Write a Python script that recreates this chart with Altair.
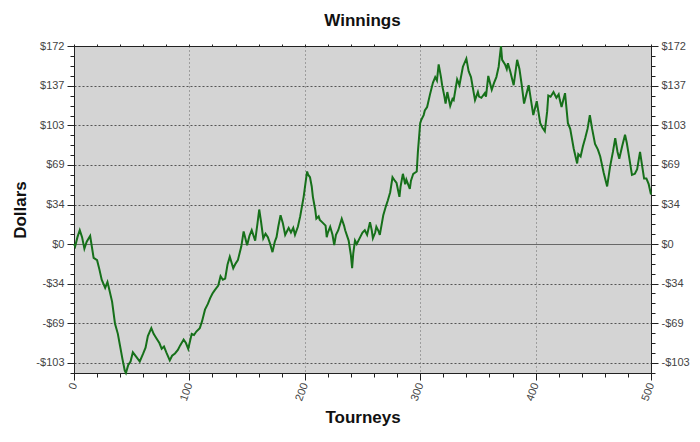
import altair as alt
import pandas as pd

# ---- data ----
tourneys = [0, 1, 3, 5, 7, 9, 11, 14, 17, 20, 22, 24, 27, 29, 30, 33, 35.5, 38, 40, 42, 44, 45,
            47, 49, 51, 54, 57, 60, 62, 64, 67, 69, 71.5, 74, 76, 78, 80, 83, 85, 87.5, 90, 92,
            95, 97, 99, 102, 104, 106, 109, 111, 113.5, 116, 118, 120, 122, 125, 127, 129, 131,
            133, 135, 138, 140, 142, 145, 147, 150, 152, 154, 157, 159, 160.5, 162, 164, 166,
            168, 170, 172, 174, 175.5, 177, 179, 181, 183, 185, 186, 188, 190, 191.5, 194, 196,
            199, 201, 202, 203, 204.5, 206, 207, 209, 210, 212, 213, 215, 218, 219, 220, 222,
            224, 225.5, 227, 229, 232, 234, 235, 237, 238, 240, 241, 242, 243.5, 245, 248, 250,
            252, 254, 256.5, 258, 259, 261, 262, 264, 265, 268, 270, 272, 274, 276, 278, 279.5,
            282, 283, 285, 287, 288, 291, 292, 294, 297, 298, 300, 301, 303, 304, 306, 308.5,
            311, 313, 314.5, 316, 318, 319, 321, 322, 323.5, 326, 328, 329, 332, 334, 337, 340,
            342, 344, 347.5, 350, 351, 353, 356, 357, 359, 361, 362, 364, 366, 368, 370, 371,
            373.5, 375, 376, 378, 381, 384, 386, 388, 390, 392, 394, 396, 398, 401, 404, 406,
            408, 410, 411, 413, 415.5, 418, 420, 421, 422.5, 424, 425.5, 428, 430, 433, 436,
            437, 439, 441, 443, 445, 447, 449, 451.5, 454, 456, 459, 462, 464.5, 467, 469, 471,
            472.5, 475, 477.5, 479, 480.5, 483.5, 486, 488, 490.5, 492, 494, 496, 498, 500]
dollars = [0, -2, 6, 12, 6, -4, 2, 7, -12, -14, -22, -31, -38, -33, -37, -50, -69, -78, -89, -100,
           -110, -112, -105, -102, -94, -98, -102, -95, -90, -80, -73, -78, -82, -86, -91, -89,
           -94, -101, -97, -95, -92, -88, -83, -86, -91, -78, -79, -76, -73, -67, -57, -52, -47,
           -43, -40, -36, -28, -31, -30, -18, -11, -21, -17, -14, -2, 11, -1, 7, 12, 3, 18, 30,
           20, 5, 9, 6, 0, -7, 2, 6, 15, 25, 18, 8, 12, 14, 10, 14, 8, 15, 24, 41, 56, 63, 60,
           58, 50, 41, 30, 22, 24, 21, 19, 16, 6, 10, 15, 8, -1, 8, 12, 22, 16, 12, 6, 3, -10,
           -21, -8, 3, 0, 6, 10, 12, 8, 19, 12, 5, 10, 15, 11, 8, 25, 32, 38, 45, 58, 55, 53,
           41, 50, 61, 52, 56, 48, 55, 61, 63, 80, 105, 108, 112, 116, 119, 130, 140, 145, 142,
           156, 145, 138, 128, 122, 132, 120, 126, 125, 143, 138, 154, 161, 150, 145, 125, 132,
           128, 127, 131, 128, 146, 138, 134, 140, 145, 154, 172, 160, 156, 152, 157, 150, 138,
           160, 152, 138, 122, 130, 138, 125, 112, 124, 105, 101, 98, 115, 129, 128, 132, 127,
           130, 125, 119, 125, 131, 105, 100, 83, 70, 78, 76, 85, 92, 100, 112, 100, 87, 82,
           76, 62, 50, 67, 80, 92, 80, 74, 85, 95, 88, 79, 60, 61, 65, 80, 70, 57, 57, 52, 43]

chart_title = "Winnings"
x_title = "Tourneys"
y_title = "Dollars"
x_tick_values = list(range(0, 501, 20))        # minor every 20, labelled every 100
y_major_step = 34.34                            # $172 / 5
y_tick_values = [round(k * y_major_step / 4, 4) for k in range(-13, 21)]
y_domain = [-112, 172]
x_domain = [0, 500]

df = pd.DataFrame({"tourney": tourneys, "dollars": dollars})

FONT = "Liberation Sans"
Y_MAJOR = "abs(round(datum.value / 8.585)) % 4 === 0"
X_MAJOR = "datum.value % 100 === 0"
Y_LABEL = ("abs(round(datum.value / 8.585)) % 4 === 0 ? "
           "(datum.value < -0.5 ? '-$' + format(abs(datum.value), '.0f') : "
           "'$' + format(abs(datum.value), '.0f')) : ''")
X_LABEL = "datum.value % 100 === 0 ? datum.label : ''"


def y_axis(orient, with_grid, title):
    kw = dict(
        orient=orient,
        values=y_tick_values,
        labelExpr=Y_LABEL,
        labelFont=FONT, labelFontSize=11, labelColor="#444",
        labelPadding=3,
        tickColor="#222",
        tickSize={"condition": {"test": Y_MAJOR, "value": 7}, "value": 4},
        domainColor="#222",
        grid=with_grid,
        titleFont=FONT, titleFontSize=17, titleFontWeight="bold", titleColor="#111",
        titlePadding=6,
        title=title,
    )
    if with_grid:
        kw.update(
            gridColor={"condition": {"test": "abs(datum.value) < 0.01", "value": "#444"},
                       "value": "#555"},
            gridDash={"condition": {"test": "abs(datum.value) < 0.01", "value": [1, 0]},
                      "value": [2, 2]},
            gridOpacity={"condition": {"test": Y_MAJOR, "value": 1}, "value": 0},
            gridWidth=1,
        )
    return alt.Axis(**kw)


def x_axis(orient, labels, title):
    kw = dict(
        orient=orient,
        values=x_tick_values,
        labels=labels,
        labelExpr=X_LABEL,
        labelAngle=290,
        labelFont=FONT, labelFontSize=11, labelColor="#444",
        labelPadding=3,
        tickColor="#222",
        tickSize={"condition": {"test": X_MAJOR, "value": 7}, "value": 4} if labels else 2,
        domainColor="#222",
        grid=labels,
        titleFont=FONT, titleFontSize=17, titleFontWeight="bold", titleColor="#111",
        titlePadding=8,
        title=title,
    )
    if labels:
        kw.update(
            gridColor="#666",
            gridDash=[1, 3],
            gridOpacity={"condition": {"test": X_MAJOR, "value": 1}, "value": 0},
        )
    return alt.Axis(**kw)


base = alt.Chart(df)

main = base.mark_line(color="#16701a", strokeWidth=2).encode(
    x=alt.X("tourney:Q", scale=alt.Scale(domain=x_domain, nice=False, zero=False),
            axis=x_axis("bottom", True, x_title)),
    y=alt.Y("dollars:Q", scale=alt.Scale(domain=y_domain, nice=False, zero=False),
            axis=y_axis("left", True, y_title)),
)

mirror = base.mark_line(strokeOpacity=0).encode(
    x=alt.X("tourney:Q", scale=alt.Scale(domain=x_domain, nice=False, zero=False),
            axis=x_axis("top", False, None)),
    y=alt.Y("dollars:Q", scale=alt.Scale(domain=y_domain, nice=False, zero=False),
            axis=y_axis("right", False, None)),
)

chart = alt.layer(main, mirror).resolve_axis(
    x="independent", y="independent"
).properties(
    width=577,
    height=327,
    title=alt.Title(chart_title, font=FONT, fontSize=17, fontWeight="bold", color="#111",
                    anchor="middle", offset=10),
    autosize=alt.AutoSizeParams(type="none"),
    padding={"left": 66, "top": 38, "right": 41, "bottom": 60},
    background="white",
).configure_view(
    fill="#d4d4d4", stroke="#222", strokeWidth=1
)

chart.save("out.html", embed_options={"renderer": "svg", "actions": False})
